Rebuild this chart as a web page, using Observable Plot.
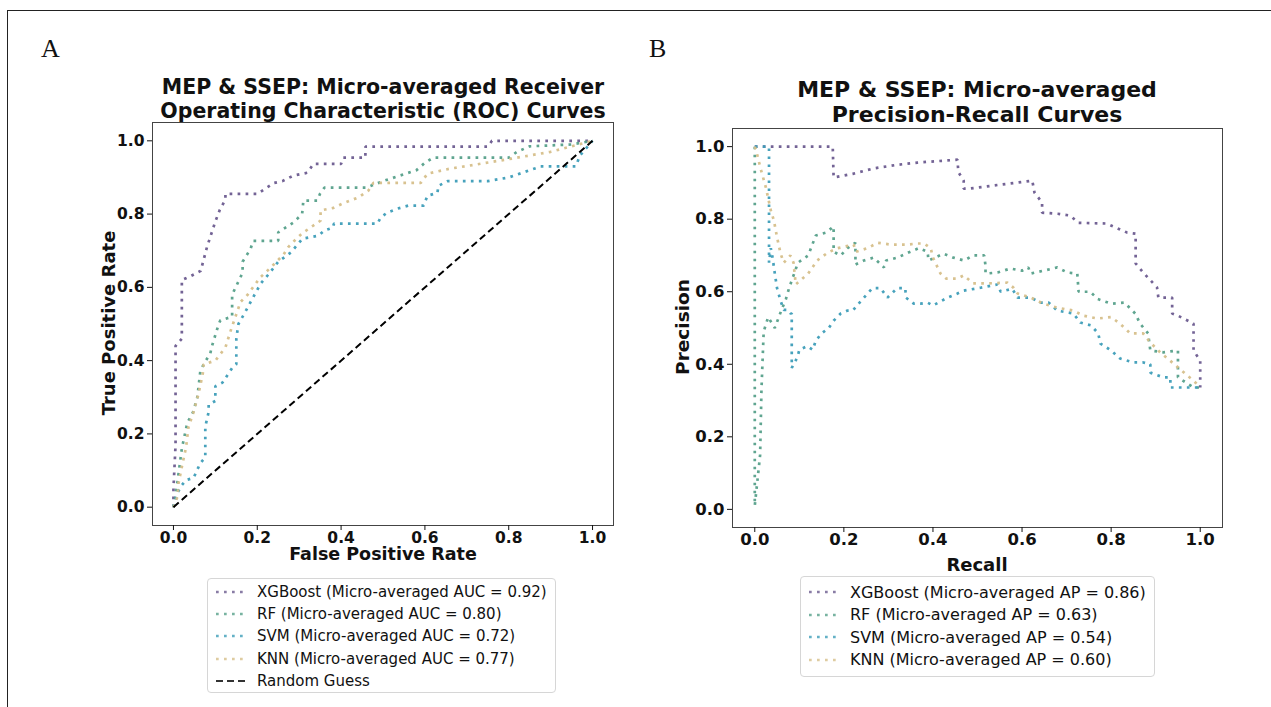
<!DOCTYPE html>
<html>
<head>
<meta charset="utf-8">
<script src="https://cdn.jsdelivr.net/npm/d3@7"></script>
<script src="https://cdn.jsdelivr.net/npm/@observablehq/plot@0.6"></script>
<style>
  html, body { margin: 0; padding: 0; background: #fff; }
  body { width: 1271px; height: 707px; position: relative; overflow: hidden; font-family: "DejaVu Sans", sans-serif; }
  .abs { position: absolute; }
  .panel-letter { font-family: "Liberation Serif", serif; font-size: 26px; color: #111; }
  .title { font-weight: bold; line-height: 24px; text-align: center; color: #111; white-space: nowrap; }
  .axlabel { font-weight: bold; line-height: 18px; text-align: center; color: #111; white-space: nowrap; }
  .legend { border: 1px solid #d6d6d6; border-radius: 4px; background: #fff; box-sizing: border-box; }
  .legend .row { position: absolute; left: 0; height: 22px; display: flex; align-items: center; color: #111; white-space: nowrap; }
  .legend svg { margin-left: 8px; margin-right: 11px; }
</style>
</head>
<body>
<div class="abs" style="left:7px;top:10px;width:1300px;height:720px;border:1px solid #222;"></div>
<div id="root"></div>
<script>
// ---------------- Data ----------------
const models = ["XGBoost", "RF", "SVM", "KNN"];
const colors = ["#6b5b8f", "#56a08a", "#3d9db8", "#d6bf8a"];
const rocAuc = ["0.92", "0.80", "0.72", "0.77"];
const prAp = ["0.86", "0.63", "0.54", "0.60"];
const tickValues = [0, 0.2, 0.4, 0.6, 0.8, 1.0];

// ROC curves: [FPR, TPR]
const rocXGBoost = [[0,0],[0,0.05],[0.005,0.17],[0.005,0.44],[0.02,0.46],[0.02,0.62],[0.04,0.63],[0.065,0.645],[0.08,0.71],[0.1,0.78],[0.11,0.81],[0.124,0.84],[0.124,0.855],[0.2,0.855],[0.22,0.87],[0.24,0.885],[0.26,0.89],[0.286,0.905],[0.32,0.913],[0.334,0.937],[0.40,0.937],[0.405,0.954],[0.458,0.954],[0.458,0.984],[0.75,0.984],[0.76,1.0],[1,1]];
const rocRF = [[0,0],[0.005,0.03],[0.02,0.16],[0.033,0.23],[0.047,0.26],[0.057,0.30],[0.064,0.37],[0.072,0.39],[0.088,0.42],[0.092,0.44],[0.1,0.47],[0.108,0.50],[0.112,0.51],[0.14,0.52],[0.14,0.58],[0.165,0.64],[0.165,0.67],[0.184,0.705],[0.19,0.727],[0.25,0.727],[0.25,0.75],[0.286,0.777],[0.307,0.80],[0.31,0.837],[0.343,0.837],[0.35,0.856],[0.36,0.872],[0.46,0.872],[0.5,0.89],[0.58,0.92],[0.6,0.94],[0.62,0.954],[0.8,0.954],[0.82,0.97],[0.85,0.985],[0.95,0.99],[1,1]];
const rocSVM = [[0,0],[0.005,0.02],[0.01,0.04],[0.02,0.06],[0.03,0.074],[0.048,0.08],[0.064,0.12],[0.076,0.136],[0.076,0.22],[0.084,0.26],[0.084,0.28],[0.1,0.29],[0.1,0.33],[0.117,0.34],[0.14,0.38],[0.15,0.39],[0.15,0.46],[0.155,0.5],[0.17,0.53],[0.184,0.56],[0.208,0.61],[0.23,0.64],[0.25,0.67],[0.28,0.695],[0.308,0.733],[0.346,0.741],[0.36,0.755],[0.38,0.763],[0.383,0.774],[0.487,0.774],[0.494,0.79],[0.51,0.804],[0.535,0.815],[0.56,0.823],[0.597,0.823],[0.606,0.85],[0.63,0.858],[0.632,0.877],[0.654,0.89],[0.75,0.89],[0.8,0.9],[0.876,0.93],[0.96,0.93],[0.97,0.96],[1,1]];
const rocKNN = [[0,0],[0.01,0.03],[0.012,0.065],[0.02,0.11],[0.03,0.163],[0.036,0.22],[0.047,0.256],[0.06,0.31],[0.07,0.365],[0.072,0.39],[0.1,0.40],[0.124,0.436],[0.136,0.48],[0.148,0.52],[0.16,0.56],[0.177,0.58],[0.207,0.627],[0.232,0.654],[0.263,0.69],[0.274,0.71],[0.296,0.736],[0.31,0.75],[0.351,0.782],[0.351,0.81],[0.382,0.817],[0.406,0.83],[0.44,0.845],[0.465,0.864],[0.477,0.885],[0.59,0.885],[0.606,0.91],[0.636,0.918],[0.66,0.924],[0.72,0.935],[0.8,0.95],[0.9,0.97],[1,1]];

// Precision-Recall curves: [Recall, Precision]
const prXGBoost = [[0.0,1.0],[0.175,1.0],[0.177,0.915],[0.22,0.925],[0.267,0.94],[0.32,0.95],[0.365,0.956],[0.455,0.964],[0.457,0.93],[0.469,0.906],[0.469,0.884],[0.48,0.884],[0.55,0.895],[0.623,0.906],[0.628,0.873],[0.645,0.846],[0.645,0.818],[0.68,0.815],[0.708,0.81],[0.727,0.79],[0.79,0.788],[0.836,0.763],[0.855,0.76],[0.855,0.678],[0.872,0.653],[0.903,0.612],[0.906,0.584],[0.937,0.584],[0.937,0.54],[0.95,0.534],[0.985,0.512],[0.985,0.438],[1.0,0.41],[1.0,0.336]];
const prRF = [[0.0,1.0],[0.0,0.01],[0.012,0.15],[0.015,0.33],[0.02,0.49],[0.03,0.53],[0.045,0.5],[0.06,0.55],[0.07,0.58],[0.077,0.61],[0.097,0.68],[0.12,0.70],[0.137,0.755],[0.16,0.763],[0.177,0.78],[0.177,0.71],[0.193,0.70],[0.208,0.72],[0.226,0.735],[0.226,0.675],[0.245,0.686],[0.267,0.694],[0.29,0.667],[0.295,0.686],[0.32,0.694],[0.345,0.708],[0.368,0.72],[0.388,0.71],[0.39,0.686],[0.424,0.705],[0.446,0.694],[0.47,0.686],[0.49,0.70],[0.515,0.70],[0.518,0.672],[0.518,0.65],[0.545,0.653],[0.574,0.664],[0.6,0.658],[0.614,0.667],[0.619,0.65],[0.648,0.658],[0.679,0.667],[0.702,0.653],[0.724,0.65],[0.727,0.60],[0.753,0.60],[0.77,0.58],[0.8,0.567],[0.83,0.57],[0.854,0.54],[0.865,0.512],[0.883,0.485],[0.888,0.438],[0.917,0.433],[0.95,0.438],[0.95,0.364],[0.985,0.336],[1.0,0.336]];
const prSVM = [[0.0,1.0],[0.032,1.0],[0.032,0.68],[0.036,0.72],[0.04,0.694],[0.045,0.65],[0.05,0.61],[0.058,0.575],[0.065,0.55],[0.074,0.55],[0.08,0.54],[0.083,0.54],[0.083,0.39],[0.096,0.42],[0.1,0.44],[0.118,0.45],[0.13,0.44],[0.137,0.465],[0.15,0.485],[0.166,0.50],[0.177,0.52],[0.193,0.54],[0.208,0.548],[0.22,0.548],[0.233,0.567],[0.264,0.61],[0.282,0.61],[0.298,0.584],[0.32,0.61],[0.338,0.61],[0.339,0.584],[0.357,0.567],[0.372,0.567],[0.388,0.57],[0.4,0.562],[0.433,0.584],[0.455,0.595],[0.469,0.603],[0.507,0.611],[0.545,0.62],[0.552,0.60],[0.578,0.608],[0.59,0.584],[0.619,0.584],[0.641,0.57],[0.66,0.57],[0.679,0.548],[0.715,0.54],[0.731,0.515],[0.755,0.507],[0.771,0.485],[0.776,0.457],[0.8,0.438],[0.82,0.416],[0.85,0.405],[0.872,0.405],[0.888,0.40],[0.888,0.377],[0.917,0.364],[0.933,0.364],[0.933,0.336],[1.0,0.336]];
const prKNN = [[0.0,1.0],[0.003,0.99],[0.013,0.94],[0.025,0.887],[0.036,0.824],[0.043,0.796],[0.05,0.75],[0.058,0.705],[0.065,0.68],[0.08,0.70],[0.087,0.68],[0.092,0.62],[0.12,0.65],[0.14,0.686],[0.164,0.708],[0.186,0.72],[0.222,0.73],[0.227,0.71],[0.253,0.72],[0.276,0.735],[0.305,0.73],[0.343,0.73],[0.365,0.733],[0.38,0.733],[0.395,0.72],[0.4,0.694],[0.417,0.65],[0.43,0.636],[0.455,0.636],[0.469,0.645],[0.49,0.623],[0.525,0.623],[0.567,0.625],[0.58,0.612],[0.59,0.595],[0.619,0.584],[0.648,0.567],[0.679,0.556],[0.715,0.548],[0.738,0.534],[0.769,0.526],[0.8,0.53],[0.82,0.512],[0.843,0.485],[0.872,0.485],[0.888,0.46],[0.91,0.433],[0.94,0.402],[0.97,0.37],[0.985,0.355],[1.0,0.336]];

const randomGuess = [[0,0],[1,1]];
const rocSeries = [rocXGBoost, rocRF, rocSVM, rocKNN];
const prSeries = [prXGBoost, prRF, prSVM, prKNN];

// ---------------- Drawing ----------------
const root = document.getElementById("root");
function place(el, left, top) {
  el.style.position = "absolute";
  el.style.left = left + "px";
  el.style.top = top + "px";
  root.appendChild(el);
}
function div(cls, html, style) {
  const d = document.createElement("div");
  d.className = "abs " + cls;
  d.innerHTML = html;
  d.setAttribute("style", style);
  root.appendChild(d);
  return d;
}

const dotW = 2.7;
const dotDash = "2.7,5.3";
const fmt = d => d.toFixed(1);

function makePlot({series, width, height, mL, mR, mT, mB, withDiag, fontSize}) {
  const marks = [];
  series.forEach((s, i) => {
    marks.push(Plot.line(s, {x: d => d[0], y: d => d[1], stroke: colors[i], strokeWidth: dotW, strokeDasharray: dotDash, strokeLinecap: "butt", strokeLinejoin: "miter", strokeOpacity: 0.95}));
  });
  if (withDiag) {
    marks.push(Plot.line(randomGuess, {x: d => d[0], y: d => d[1], stroke: "#000", strokeWidth: 2, strokeDasharray: "7,4", strokeLinecap: "butt"}));
  }
  marks.push(Plot.frame({stroke: "#444", strokeWidth: 1}));
  marks.push(Plot.axisX({ticks: tickValues, tickFormat: fmt, tickSize: 5, tickPadding: 1, label: null}));
  marks.push(Plot.axisY({ticks: tickValues, tickFormat: fmt, tickSize: 5, tickPadding: 3, label: null}));
  return Plot.plot({
    width, height,
    marginLeft: mL, marginRight: mR, marginTop: mT, marginBottom: mB,
    x: {domain: [-0.05, 1.05]},
    y: {domain: [-0.05, 1.05]},
    style: {fontFamily: "DejaVu Sans", fontSize: fontSize + "px", fontWeight: "bold", color: "#111", background: "transparent", overflow: "visible"},
    marks
  });
}

// Panel A: ROC
const roc = makePlot({series: rocSeries, width: 536, height: 440, mL: 60, mR: 15, mT: 7, mB: 30, withDiag: true, fontSize: 15.5});
place(roc, 92, 115);
// Panel B: PR
const pr = makePlot({series: prSeries, width: 565, height: 437, mL: 60, mR: 15, mT: 8, mB: 30, withDiag: false, fontSize: 16.5});
place(pr, 672, 120);

// Panel letters
div("panel-letter", "A", "left:41px;top:34px;");
div("panel-letter", "B", "left:649px;top:34px;");

// Titles
div("title", "MEP &amp; SSEP: Micro-averaged Receiver<br>Operating Characteristic (ROC) Curves", "left:133px;top:75px;width:500px;font-size:20.5px;");
div("title", "MEP &amp; SSEP: Micro-averaged<br>Precision-Recall Curves", "left:727px;top:77px;width:500px;font-size:22px;line-height:25px;");

// Axis labels
div("axlabel", "False Positive Rate", "left:233px;top:545px;width:300px;font-size:17.5px;");
div("axlabel", "Recall", "left:827px;top:556px;width:300px;font-size:18px;");
div("axlabel", "True Positive Rate", "left:-41px;top:314px;width:300px;font-size:18px;transform:rotate(-90deg);");
div("axlabel", "Precision", "left:533px;top:318px;width:300px;font-size:18.5px;transform:rotate(-90deg);");

// Legends
function sample(color, dash, w) {
  return `<svg width="30" height="6"><line x1="0" y1="3" x2="30" y2="3" stroke="${color}" stroke-width="${w}" stroke-dasharray="${dash}" stroke-opacity="0.8"/></svg>`;
}
function legend(left, top, width, height, entries, rowTop, rowStep, fontSize) {
  const box = div("legend", "", `left:${left}px;top:${top}px;width:${width}px;height:${height}px;`);
  entries.forEach((e, i) => {
    const r = document.createElement("div");
    r.className = "row";
    r.style.top = (rowTop + i * rowStep) + "px";
    r.style.fontSize = fontSize + "px";
    r.innerHTML = sample(e.color, e.dash, e.w) + `<span>${e.text}</span>`;
    box.appendChild(r);
  });
}
const rocEntries = models.map((m, i) => ({color: colors[i], dash: dotDash, w: dotW, text: `${m} (Micro-averaged AUC = ${rocAuc[i]})`}));
rocEntries.push({color: "#000", dash: "7,4", w: 2, text: "Random Guess"});
legend(207, 578, 349, 115, rocEntries, 2, 22.2, 15);
const prEntries = models.map((m, i) => ({color: colors[i], dash: dotDash, w: dotW, text: `${m} (Micro-averaged AP = ${prAp[i]})`}));
legend(800, 576, 355, 101, prEntries, 4, 22.5, 16);
</script>
</body>
</html>
